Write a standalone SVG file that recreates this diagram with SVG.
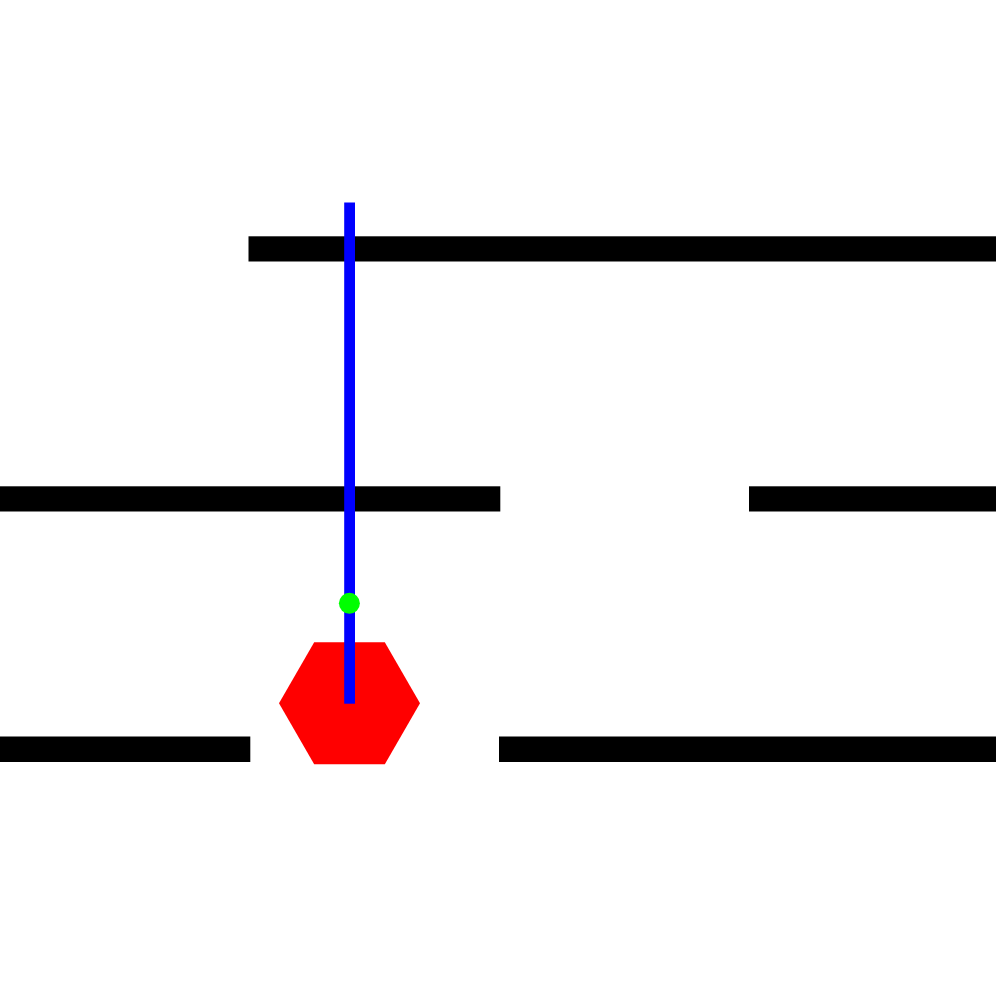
<svg xmlns="http://www.w3.org/2000/svg" width="996" height="992" viewBox="0 0 996 992">
<style>
.wall{fill:#000000}
</style>
<rect x="0" y="0" width="996" height="992" fill="#ffffff"/>
<g id="walls">
<rect class="wall" x="248.5" y="236.3" width="747.5" height="25.2"/>
<rect class="wall" x="0" y="486.3" width="500.3" height="25.2"/>
<rect class="wall" x="749" y="486.3" width="247" height="25.2"/>
<rect class="wall" x="0" y="736.5" width="250.3" height="25.5"/>
<rect class="wall" x="499" y="736.5" width="497" height="25.5"/>
</g>
<g id="hexagon">
<polygon points="279,703.3 314.2,642.3 384.8,642.3 420,703.3 384.8,764.3 314.2,764.3" fill="#ff0000"/>
</g>
<g id="rod">
<rect x="344.2" y="202.5" width="10.8" height="501.2" fill="#0000ff"/>
</g>
<g id="dot">
<circle cx="349.4" cy="603.3" r="10.5" fill="#00ff00"/>
</g>
</svg>
